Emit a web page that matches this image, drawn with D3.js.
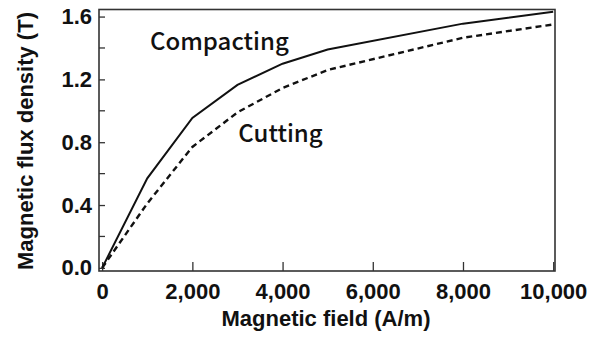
<!DOCTYPE html>
<html>
<head>
<meta charset="utf-8">
<script src="https://cdn.jsdelivr.net/npm/d3@7"></script>
<style>
  html, body { margin: 0; padding: 0; background: #fff; }
  .tick text { font-family: "Liberation Sans", Arial, sans-serif; font-weight: bold; font-size: 22px; fill: #111; }
  .title { font-family: "Liberation Sans", Arial, sans-serif; font-weight: bold; font-size: 22px; fill: #111; }
  .note { font-family: "Noto Sans CJK JP", "Noto Sans", sans-serif; font-size: 24px; font-weight: 500; fill: #111; }
</style>
</head>
<body>
<div id="chart"></div>
<script>
var field = [0, 1000, 2000, 3000, 4000, 5000, 8000, 10000];
var compacting = [0, 0.57, 0.955, 1.165, 1.30, 1.39, 1.555, 1.63];
var cutting = [0, 0.41, 0.77, 0.99, 1.145, 1.26, 1.465, 1.55];

var xTicks = [0, 2000, 4000, 6000, 8000, 10000];
var yTicks = [0, 0.4, 0.8, 1.2, 1.6];
var yMinor = [0.2, 0.6, 1.0, 1.4];

var width = 598,
    height = 342;

var x = d3.scaleLinear().domain([-70, 10040]).range([99, 555]);
var y = d3.scaleLinear().domain([-0.02, 1.645]).range([271, 9.5]);

var svg = d3.select("#chart")
    .append("svg")
    .attr("width", width)
    .attr("height", height);

// axes with ticks pointing inward
var xAxis = d3.axisBottom(x)
    .tickValues(xTicks)
    .tickSize(-9)
    .tickPadding(12)
    .tickFormat(d3.format(","));

var gx = svg.append("g")
    .attr("transform", "translate(0," + y.range()[0] + ")")
    .call(xAxis);

var yAxis = d3.axisLeft(y)
    .tickValues(yTicks)
    .tickSize(-6)
    .tickPadding(7)
    .tickFormat(d3.format(".1f"));

var gy = svg.append("g")
    .attr("transform", "translate(" + x.range()[0] + ",0)")
    .call(yAxis);

gy.selectAll(".minor")
    .data(yMinor)
    .enter()
    .append("line")
    .attr("class", "minor")
    .attr("x1", 0)
    .attr("x2", 6)
    .attr("y1", function (d) { return y(d); })
    .attr("y2", function (d) { return y(d); })
    .attr("stroke", "#333")
    .attr("stroke-width", 1.3);

svg.selectAll(".domain").remove();
svg.selectAll(".tick line").attr("stroke", "#333").attr("stroke-width", 1.3);

// frame
svg.append("rect")
    .attr("x", x.range()[0])
    .attr("y", y.range()[1])
    .attr("width", x.range()[1] - x.range()[0])
    .attr("height", y.range()[0] - y.range()[1])
    .attr("fill", "none")
    .attr("stroke", "#333")
    .attr("stroke-width", 1.6);

var line = d3.line()
    .x(function (d) { return x(d[0]); })
    .y(function (d) { return y(d[1]); });

svg.append("path")
    .datum(d3.zip(field, compacting))
    .attr("d", line)
    .attr("fill", "none")
    .attr("stroke", "#111")
    .attr("stroke-width", 2);

svg.append("path")
    .datum(d3.zip(field, cutting))
    .attr("d", line)
    .attr("fill", "none")
    .attr("stroke", "#111")
    .attr("stroke-width", 2.4)
    .attr("stroke-dasharray", "6,4");

svg.append("text")
    .attr("class", "note")
    .attr("x", x(1060))
    .attr("y", y(1.385))
    .text("Compacting");

svg.append("text")
    .attr("class", "note")
    .attr("x", x(3020))
    .attr("y", y(0.8))
    .text("Cutting");

svg.append("text")
    .attr("class", "title")
    .attr("x", 326)
    .attr("y", 326)
    .attr("text-anchor", "middle")
    .text("Magnetic field (A/m)");

svg.append("text")
    .attr("class", "title")
    .attr("transform", "translate(33,141) rotate(-90)")
    .attr("text-anchor", "middle")
    .text("Magnetic flux density (T)");
</script>
</body>
</html>
